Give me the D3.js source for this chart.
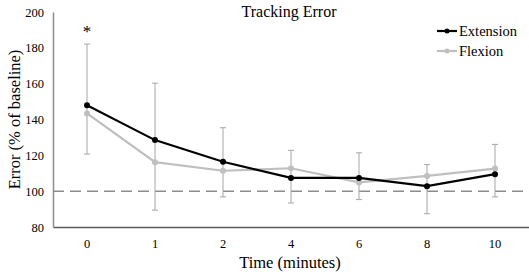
<!DOCTYPE html>
<html>
<head>
<meta charset="utf-8">
<script src="https://cdn.jsdelivr.net/npm/d3@7"></script>
<style>
  body { margin: 0; background: #fff; }
  svg { font-family: "Liberation Serif", "Times New Roman", serif; }
</style>
</head>
<body>
<div id="chart"></div>
<script>
// Data
const times = ['0', '1', '2', '4', '6', '8', '10'];
const extension = [148, 128.5, 116.4, 107.4, 107.4, 102.8, 109.5];
const flexion = [143.4, 116.2, 111.4, 112.8, 104.9, 108.5, 112.6];
const errHigh = [182.1, 160.3, 135.4, 122.8, 121.4, 114.8, 126.1];
const errLow = [120.7, 89.4, 96.8, 93.4, 95.3, 87.4, 96.8];
const yTicks = [80, 100, 120, 140, 160, 180, 200];

const W = 529, H = 274;
const margin = { top: 12, right: 0, bottom: 47, left: 53 };

const svg = d3.select('#chart').append('svg')
  .attr('width', W)
  .attr('height', H);

const x = d3.scaleBand().domain(times).range([margin.left, W - margin.right]);
const y = d3.scaleLinear().domain([80, 200]).range([H - margin.bottom, margin.top]);
const cx = d => x(d) + x.bandwidth() / 2;

// Axes
const xAxis = svg.append('g')
  .attr('transform', `translate(0,${y(80)})`)
  .call(d3.axisBottom(x).tickSize(0).tickPadding(12));
xAxis.select('.domain').attr('stroke', '#595959').attr('stroke-width', 1.3);
xAxis.selectAll('text').attr('font-size', 12.5).attr('fill', '#000')
  .attr('font-family', '"Liberation Serif", serif');

const yAxis = svg.append('g')
  .attr('transform', `translate(${margin.left},0)`)
  .call(d3.axisLeft(y).tickValues(yTicks).tickSize(0).tickPadding(9));
yAxis.select('.domain').attr('stroke', '#8c8c8c').attr('stroke-width', 1.5);
yAxis.selectAll('text').attr('font-size', 12.5).attr('fill', '#000')
  .attr('font-family', '"Liberation Serif", serif');

// Baseline reference
svg.append('line')
  .attr('x1', margin.left).attr('x2', W)
  .attr('y1', y(100)).attr('y2', y(100))
  .attr('stroke', '#8c8c8c')
  .attr('stroke-width', 1.5)
  .attr('stroke-dasharray', '11,6');

// Error bars
const eb = svg.append('g').attr('stroke', '#a6a6a6').attr('stroke-width', 1);
times.forEach((t, i) => {
  eb.append('line').attr('x1', cx(t)).attr('x2', cx(t))
    .attr('y1', y(errHigh[i])).attr('y2', y(errLow[i]));
  [errHigh[i], errLow[i]].forEach(v => {
    eb.append('line').attr('x1', cx(t) - 3).attr('x2', cx(t) + 3)
      .attr('y1', y(v)).attr('y2', y(v));
  });
});

// Series
const line = d3.line().x((d, i) => cx(times[i])).y(d => y(d));
const series = [
  { name: 'Flexion', values: flexion, color: '#bfbfbf' },
  { name: 'Extension', values: extension, color: '#000' }
];
series.forEach(s => {
  svg.append('path')
    .attr('d', line(s.values))
    .attr('fill', 'none')
    .attr('stroke', s.color)
    .attr('stroke-width', 2.2);
  svg.selectAll(null).data(s.values).enter().append('circle')
    .attr('cx', (d, i) => cx(times[i]))
    .attr('cy', d => y(d))
    .attr('r', 3)
    .attr('fill', s.color);
});

// Significance marker
svg.append('text')
  .attr('x', cx('0')).attr('y', 37)
  .attr('text-anchor', 'middle')
  .attr('font-size', 17)
  .text('*');

// Title
svg.append('text')
  .attr('x', 289).attr('y', 17)
  .attr('text-anchor', 'middle')
  .attr('font-size', 16)
  .text('Tracking Error');

// Axis titles
svg.append('text')
  .attr('x', 290).attr('y', 268)
  .attr('text-anchor', 'middle')
  .attr('font-size', 16.5)
  .text('Time (minutes)');

svg.append('text')
  .attr('transform', `translate(20,${(y(80) + y(200)) / 2}) rotate(-90)`)
  .attr('text-anchor', 'middle')
  .attr('font-size', 16.5)
  .text('Error (% of baseline)');

// Legend
const legend = svg.append('g');
[series[1], series[0]].forEach((s, i) => {
  const ly = 31 + i * 20;
  legend.append('line')
    .attr('x1', 437).attr('x2', 457).attr('y1', ly).attr('y2', ly)
    .attr('stroke', s.color).attr('stroke-width', 2.2);
  legend.append('circle').attr('cx', 447).attr('cy', ly).attr('r', 2.5).attr('fill', s.color);
  legend.append('text')
    .attr('x', 459).attr('y', ly + 5)
    .attr('font-size', 14.5)
    .text(s.name);
});
</script>
</body>
</html>
